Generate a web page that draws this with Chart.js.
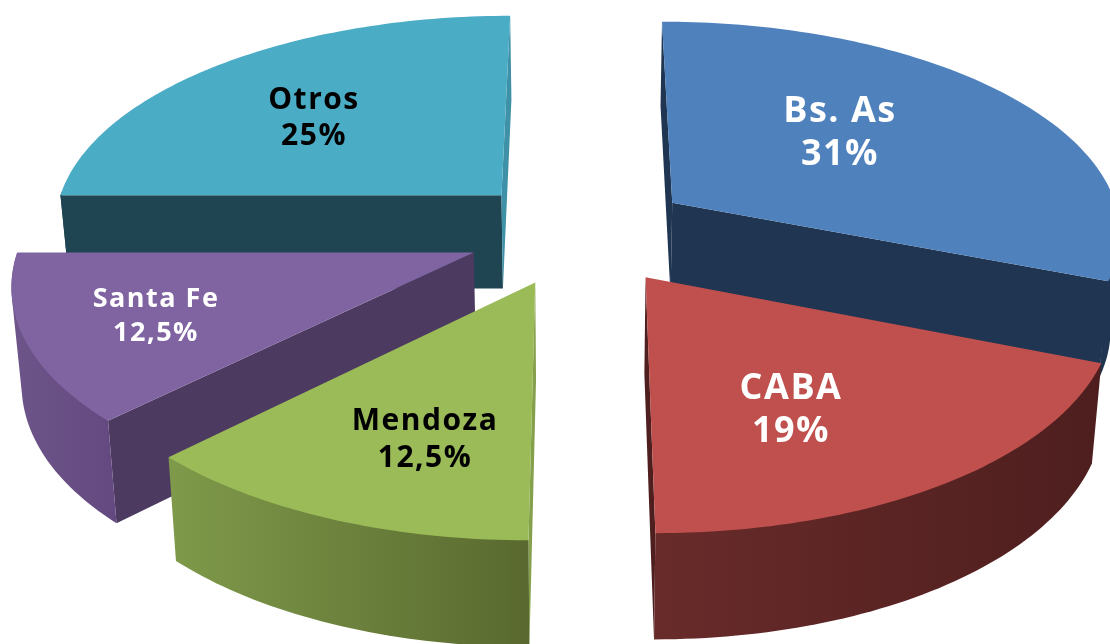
<!DOCTYPE html>
<html>
<head>
<meta charset="utf-8">
<title>Pie 3D</title>
<script src="https://cdn.jsdelivr.net/npm/chart.js@4"></script>
<style>
    html, body { margin: 0; padding: 0; background: #fff; overflow: hidden; }
    canvas { display: block; }
</style>
</head>
<body>
<canvas id="myChart" width="1110" height="644"></canvas>
<script>
// Data
const categories = ['Bs. As', 'CABA', 'Mendoza', 'Santa Fe', 'Otros'];
const shares = [31, 19, 12.5, 12.5, 25];
const shareLabels = ['31%', '19%', '12,5%', '12,5%', '25%'];

// Colors, same order as categories
const topColors = ['#4f81bd', '#c0504d', '#9bbb59', '#8064a2', '#4bacc6'];
const textColors = ['#fff', '#fff', '#000', '#fff', '#000'];
// side faces: null = the face looks away from the viewer
const startFaceColors = ['#1f3552', null, '#85a04b', '#4c3a60', '#1e4551'];
const endFaceColors = ['#1f3552', '#4f1f1f', null, null, '#3f91a8'];
// outer wall shade, left end then right end
const rimLeft = ['#1f3552', '#682b2a', '#7f9a4a', '#6d5489', '#1e4551'];
const rimRight = ['#1f3552', '#4e1e1e', '#59692f', '#63497f', '#1e4551'];

// Labels (font size, then centre of the two text lines)
const labelSizes = [36, 36, 30, 27, 30];
const labelX = [840, 791, 425, 156, 314];
const labelY1 = [112, 389, 421, 299, 100];
const labelY2 = [155, 432, 458, 333, 136];

// Camera, fitted by eye on the picture
const view = { cx: 580, cy: 232, rx: 451, ry: 211, persp: 0.127, depth: 95, depthSlope: 9.3, shrink: 0.982 };

function project(u, v, low) {
    const w = 1 + view.persp * v;
    let sx = view.cx + view.rx * u / w;
    let sy = view.cy - view.ry * v / w;
    if (low) {
        sx = view.cx + (sx - view.cx) * view.shrink;
        sy += view.depth - view.depthSlope * v;
    }
    return [sx, sy];
}

function fillPoly(ctx, pts, color) {
    ctx.beginPath();
    pts.forEach((p, i) => i ? ctx.lineTo(p[0], p[1]) : ctx.moveTo(p[0], p[1]));
    ctx.closePath();
    ctx.fillStyle = color;
    ctx.fill();
}

// Monotone chain, gives the wall its straight silhouette edge
function convexHull(points) {
    const pts = points.slice().sort((a, b) => a[0] - b[0] || a[1] - b[1]);
    const cross = (o, a, b) => (a[0] - o[0]) * (b[1] - o[1]) - (a[1] - o[1]) * (b[0] - o[0]);
    const half = list => {
        const out = [];
        list.forEach(p => {
            while (out.length > 1 && cross(out[out.length - 2], out[out.length - 1], p) <= 0) out.pop();
            out.push(p);
        });
        out.pop();
        return out;
    };
    return half(pts).concat(half(pts.slice().reverse()));
}

// Turns one arc element of Chart.js into disc coordinates, 0 = top, clockwise
function sliceGeometry(arc) {
    const a0 = arc.startAngle + Math.PI / 2;
    const a1 = arc.endAngle + Math.PI / 2;
    const mid = (a0 + a1) / 2;
    const e = arc.options.offset / arc.outerRadius;
    return { a0, a1, mid, ox: e * Math.sin(mid), oy: e * Math.cos(mid) };
}

function rimPoint(g, a, low) {
    return project(g.ox + Math.sin(a), g.oy + Math.cos(a), low);
}

function drawSlice(ctx, arc, i) {
    const g = sliceGeometry(arc);
    const apexTop = project(g.ox, g.oy, false);
    const apexLow = project(g.ox, g.oy, true);

    if (startFaceColors[i]) {
        fillPoly(ctx, [apexTop, rimPoint(g, g.a0, false), rimPoint(g, g.a0, true), apexLow], startFaceColors[i]);
    }
    if (endFaceColors[i]) {
        fillPoly(ctx, [apexTop, rimPoint(g, g.a1, false), rimPoint(g, g.a1, true), apexLow], endFaceColors[i]);
    }

    // outer wall, only the part that faces the viewer
    const steps = Math.ceil((g.a1 - g.a0) / 0.02);
    const wall = [];
    for (let s = 0; s <= steps; s++) {
        const t = g.a0 + (g.a1 - g.a0) * s / steps;
        if (Math.cos(t) > 0.02) continue; // back of the pie
        wall.push(rimPoint(g, t, false), rimPoint(g, t, true));
    }
    if (wall.length > 2) {
        const xs = wall.map(p => p[0]);
        const grad = ctx.createLinearGradient(Math.min(...xs), 0, Math.max(...xs), 0);
        grad.addColorStop(0, rimLeft[i]);
        grad.addColorStop(1, rimRight[i]);
        fillPoly(ctx, convexHull(wall), grad);
    }

    const top = [apexTop];
    for (let s = 0; s <= steps; s++) {
        top.push(rimPoint(g, g.a0 + (g.a1 - g.a0) * s / steps, false));
    }
    fillPoly(ctx, top, topColors[i]);
}

const pie3d = {
    id: 'pie3d',
    beforeDatasetDraw(chart) {
        const ctx = chart.ctx;
        const arcs = chart.getDatasetMeta(0).data;
        // far slices first
        const order = arcs.map((a, i) => i).sort((p, q) => {
            return sliceGeometry(arcs[q]).oy - sliceGeometry(arcs[p]).oy;
        });
        ctx.save();
        order.forEach(i => drawSlice(ctx, arcs[i], i));
        ctx.restore();
        return false; // the flat arcs are replaced
    },
    afterDatasetsDraw(chart) {
        const ctx = chart.ctx;
        ctx.save();
        ctx.textAlign = 'center';
        ctx.textBaseline = 'middle';
        categories.forEach((name, i) => {
            ctx.font = 'bold ' + labelSizes[i] + 'px "Open Sans"';
            ctx.letterSpacing = '1.5px';
            ctx.fillStyle = textColors[i];
            ctx.fillText(name, labelX[i], labelY1[i]);
            ctx.fillText(shareLabels[i], labelX[i], labelY2[i]);
        });
        ctx.restore();
    }
};

new Chart(document.getElementById('myChart'), {
    type: 'pie',
    data: {
        labels: categories,
        datasets: [{
            data: shares,
            backgroundColor: topColors,
            offset: 72,
            borderWidth: 0
        }]
    },
    options: {
        responsive: false,
        animation: false,
        plugins: {
            legend: { display: false },
            tooltip: { enabled: false }
        }
    },
    plugins: [pie3d]
});
</script>
</body>
</html>
